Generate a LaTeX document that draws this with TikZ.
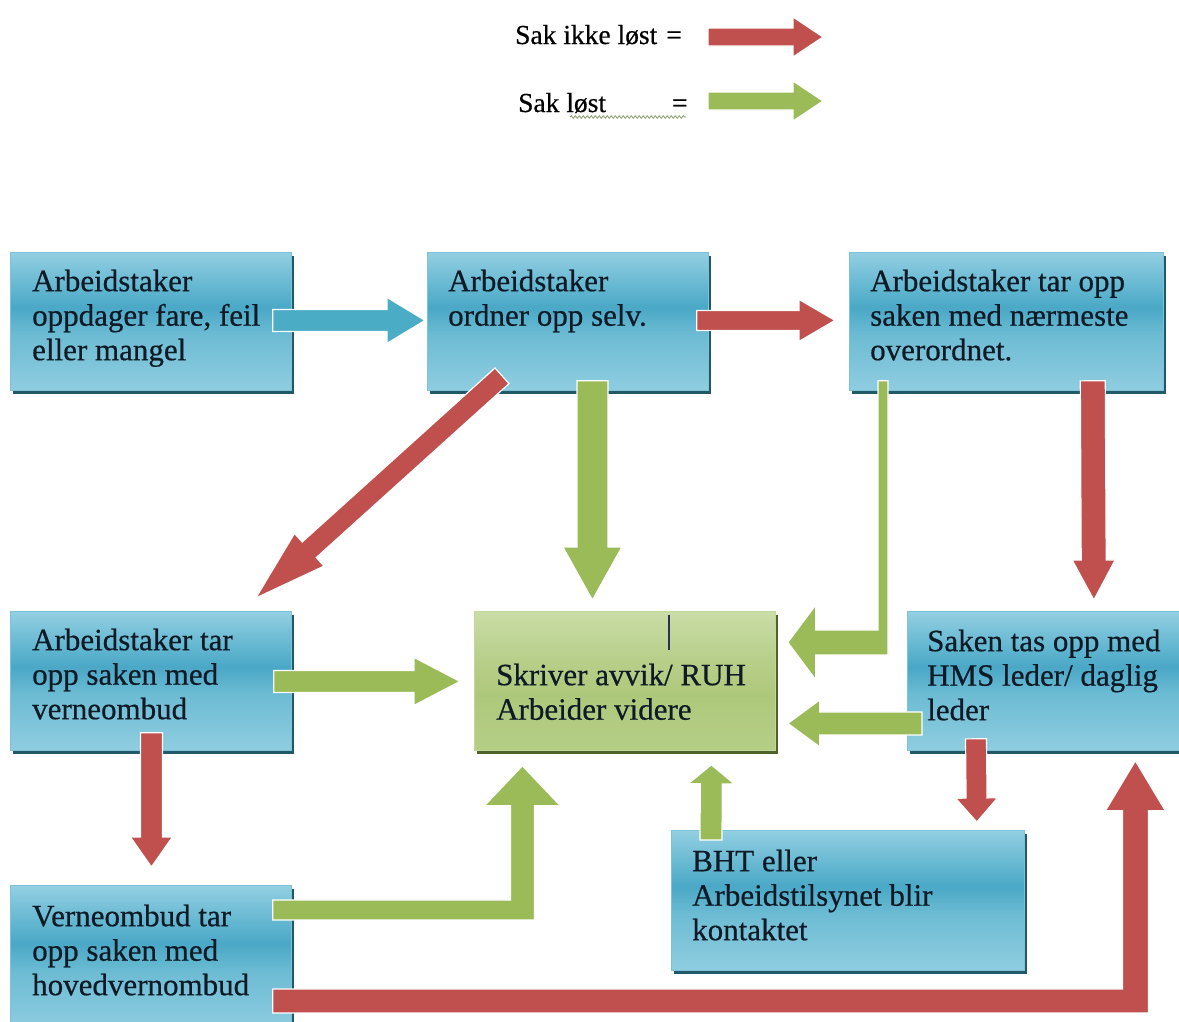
\documentclass[tikz,border=0pt]{standalone}
\usepackage{fontspec}
\setmainfont{Liberation Serif}
\newfontfamily\boxfont{Liberation Serif}[FakeBold=0.5]
\usetikzlibrary{calc,shadows,decorations.pathmorphing}
\definecolor{bbot}{HTML}{8FCDE0}
\definecolor{bmid}{HTML}{6DBCD4}
\definecolor{bdark}{HTML}{4AA8C6}
\definecolor{bmidb}{HTML}{62B6D0}
\definecolor{btop}{HTML}{93CFE2}
\definecolor{bline}{HTML}{7CC2D8}
\definecolor{bshadow}{HTML}{215968}
\definecolor{gbot}{HTML}{B5CE86}
\definecolor{gmid}{HTML}{AEC87B}
\definecolor{gmidb}{HTML}{B8CF8A}
\definecolor{gtop}{HTML}{CADDA7}
\definecolor{gline}{HTML}{C2D79C}
\definecolor{gshadow}{HTML}{4F6228}
\definecolor{ared}{HTML}{C0504D}
\definecolor{agreen}{HTML}{9BBB59}
\definecolor{ablue}{HTML}{4BACC6}
\definecolor{txtc}{HTML}{0E1A26}
\definecolor{squigc}{HTML}{8A9A6B}
\definecolor{cursc}{HTML}{2B2F5A}
\pgfdeclareverticalshading{bluegrad}{100bp}{color(0bp)=(bbot); color(25bp)=(bbot); color(45bp)=(bmid); color(55bp)=(bdark); color(62bp)=(bmidb); color(75bp)=(btop); color(100bp)=(btop)}
\pgfdeclareverticalshading{greengrad}{100bp}{color(0bp)=(gbot); color(25bp)=(gbot); color(45bp)=(gmid); color(58bp)=(gmidb); color(75bp)=(gtop); color(100bp)=(gtop)}
% block arrow: #1 tail, #2 tip, #3 shaft half width, #4 head half width, #5 head length, #6 style
\newcommand\blockarr[6]{%
  \coordinate (bh) at ($(#2)!#5!(#1)$);
  \path[#6] ($(#1)!#3!90:(#2)$) -- ($(bh)!#3!90:(#2)$) -- ($(bh)!#4!90:(#2)$) -- (#2)
    -- ($(bh)!#4!-90:(#2)$) -- ($(bh)!#3!-90:(#2)$) -- ($(#1)!#3!-90:(#2)$) -- cycle;}
\begin{document}
\begin{tikzpicture}[x=1pt,y=-1pt,
  bluebox/.style={anchor=north west, inner sep=0pt, shading=bluegrad, draw=bline, line width=0.8pt,
    general shadow={fill=bshadow, shadow xshift=3pt, shadow yshift=-4pt}},
  greenbox/.style={anchor=north west, inner sep=0pt, shading=greengrad, draw=gline, line width=0.8pt,
    general shadow={fill=gshadow, shadow xshift=3pt, shadow yshift=-4pt}},
  boxtext/.style={anchor=north west, inner sep=0pt, align=left, text=txtc, font=\boxfont\fontsize{31pt}{34.5pt}\selectfont},
  legtext/.style={anchor=base west, inner sep=0pt, text=black, font=\boxfont\fontsize{27.5pt}{33pt}\selectfont},
  redarr/.style={fill=ared, draw=white, line width=1.2pt, line join=miter},
  greenarr/.style={fill=agreen, draw=white, line width=1.2pt, line join=miter},
  bluearr/.style={fill=ablue, draw=white, line width=1.2pt, line join=miter},
  squig/.style={draw=squigc, line width=0.8pt, decorate, decoration={snake, amplitude=1.3pt, segment length=4pt}},
  curs/.style={draw=cursc, line width=2pt}]
\useasboundingbox (0,0) rectangle (1179,1021);
\fill[white] (0,0) rectangle (1179,1021);

% legend
\node[legtext] (lg1) at (515,44) {Sak ikke løst\hspace{9pt}=};
\node[legtext] (lg2) at (518,112) {Sak løst\hspace{66pt}=};
\draw[squig] ($(lg2.base west)+(52,5)$) coordinate (sq1) -- ($(lg2.base west)+(168,5)$) coordinate (sq2);
\coordinate (l1s) at ($(lg1.base west)+(193,-7)$);
\coordinate (l1t) at ($(lg1.base west)+(308,-7)$);
\coordinate (l2s) at ($(lg2.base west)+(190,-11)$);
\coordinate (l2t) at ($(lg2.base west)+(305,-11)$);
\blockarr{l1s}{l1t}{9pt}{20pt}{30pt}{redarr}
\blockarr{l2s}{l2t}{9pt}{20pt}{30pt}{greenarr}

% boxes
\node[bluebox, minimum width=281pt, minimum height=138pt] (A1) at (10,252) {};
\node[bluebox, minimum width=281pt, minimum height=138pt] (A2) at (427,252) {};
\node[bluebox, minimum width=314pt, minimum height=138pt] (A3) at (849,252) {};
\node[bluebox, minimum width=281pt, minimum height=139pt] (B1) at (10,611) {};
\node[greenbox, minimum width=301pt, minimum height=139pt] (C) at (474,611) {};
\node[bluebox, minimum width=275pt, minimum height=139pt] (B3) at (907,611) {};
\node[bluebox, minimum width=353pt, minimum height=140pt] (D) at (671,830) {};
\node[bluebox, minimum width=281pt, minimum height=145pt] (E) at (10,885) {};

% straight arrows
\coordinate (a1s) at ($(A1.east)+(-19,-1)$);
\coordinate (a1t) at ($(A2.west)+(-2,-1)$);
\blockarr{a1s}{a1t}{11pt}{23pt}{38pt}{bluearr}
\coordinate (a2s) at ($(A2.east)+(-12,-1)$);
\coordinate (a2t) at ($(A3.west)+(-14,-1)$);
\blockarr{a2s}{a2t}{10pt}{21pt}{36pt}{redarr}
\coordinate (a3s) at ($(A2.south west)+(75,-15)$);
\coordinate (a3t) at ($(B1.north east)+(-36,-13)$);
\blockarr{a3s}{a3t}{10.5pt}{22pt}{72pt}{redarr}
\coordinate (a4s) at ($(A2.south)+(24.5,-10)$);
\coordinate (a4t) at ($(C.north)+(-32.5,-11)$);
\blockarr{a4s}{a4t}{15.5pt}{29.5pt}{53pt}{greenarr}
\coordinate (a6s) at ($(B3.west)+(15,42.5)$);
\coordinate (a6t) at ($(C.east)+(12,42.5)$);
\blockarr{a6s}{a6t}{11.5pt}{23.5pt}{32pt}{greenarr}
\coordinate (a7s) at ($(A3.south east)+(-71,-10)$);
\coordinate (a7t) at ($(B3.north)+(49,-11)$);
\blockarr{a7s}{a7t}{12.5pt}{21.5pt}{40pt}{redarr}
\coordinate (a8s) at ($(B1.east)+(-18,0.5)$);
\coordinate (a8t) at ($(C.west)+(-14,0.5)$);
\blockarr{a8s}{a8t}{11pt}{24pt}{46pt}{greenarr}
\coordinate (a9s) at ($(B1.south)+(0.5,-18)$);
\coordinate (a9t) at ($(E.north)+(0.5,-18)$);
\blockarr{a9s}{a9t}{11pt}{21pt}{30pt}{redarr}
\coordinate (a11s) at ($(D.north west)+(40,10)$);
\coordinate (a11t) at ($(C.south)+(86.5,14)$);
\blockarr{a11s}{a11t}{11pt}{23pt}{19pt}{greenarr}
\coordinate (a12s) at ($(B3.south west)+(69,-12)$);
\coordinate (a12t) at ($(D.north east)+(-48,-8)$);
\blockarr{a12s}{a12t}{10.5pt}{21pt}{24pt}{redarr}

% bent arrows
\coordinate (e5s) at ($(A3.south west)+(34,-10)$);
\coordinate (e5t) at ($(C.east)+(12,-38.5)$);
\path[greenarr] ($(e5s)+(-5,0)$) -- ($(e5s)+(5,0)$) -- ($(e5s |- e5t)+(5,12.5)$) -- ($(e5t)+(28,12.5)$)
  -- ($(e5t)+(28,37.5)$) -- (e5t) -- ($(e5t)+(28,-37.5)$) -- ($(e5t)+(28,-12.5)$)
  -- ($(e5s |- e5t)+(-5,-12.5)$) -- cycle;
\coordinate (e10s) at ($(E.east)+(-19,-48)$);
\coordinate (e10t) at ($(C.south)+(-102.5,15)$);
\path[greenarr] ($(e10s)+(0,-10)$) -- ($(e10t |- e10s)+(-12,-10)$) -- ($(e10t)+(-12,40)$)
  -- ($(e10t)+(-38,40)$) -- (e10t) -- ($(e10t)+(38,40)$) -- ($(e10t)+(12,40)$)
  -- ($(e10t |- e10s)+(12,10)$) -- ($(e10s)+(0,10)$) -- cycle;
\coordinate (e13s) at ($(E.east)+(-19,43)$);
\coordinate (e13t) at ($(B3.south)+(90.5,10)$);
\path[redarr] ($(e13s)+(0,-12)$) -- ($(e13t |- e13s)+(-13,-12)$) -- ($(e13t)+(-13,50)$)
  -- ($(e13t)+(-30,50)$) -- (e13t) -- ($(e13t)+(30,50)$) -- ($(e13t)+(13,50)$)
  -- ($(e13t |- e13s)+(13,12)$) -- ($(e13s)+(0,12)$) -- cycle;

% texts
\node[boxtext] (A1t) at ($(A1.north west)+(22,14.85)$) {\strut Arbeidstaker\\oppdager fare, feil\\eller mangel};
\node[boxtext] (A2t) at ($(A2.north west)+(21,14.85)$) {\strut Arbeidstaker\\ordner opp selv.};
\node[boxtext] (A3t) at ($(A3.north west)+(21,14.85)$) {\strut Arbeidstaker tar opp\\saken med nærmeste\\overordnet.};
\node[boxtext] (B1t) at ($(B1.north west)+(22,14.85)$) {\strut Arbeidstaker tar\\opp saken med\\verneombud};
\node[boxtext] (Ct) at ($(C.north west)+(22,49.85)$) {\strut Skriver avvik/ RUH\\Arbeider videre};
\node[boxtext] (B3t) at ($(B3.north west)+(20,15.85)$) {\strut Saken tas opp med\\HMS leder/ daglig\\leder};
\node[boxtext] (Dt) at ($(D.north west)+(21,16.85)$) {\strut BHT eller\\Arbeidstilsynet blir\\kontaktet};
\node[boxtext] (Et) at ($(E.north west)+(22,16.85)$) {\strut Verneombud tar\\opp saken med\\hovedvernombud};

% text cursor
\coordinate (cu1) at ($(C.north)+(44,4)$);
\coordinate (cu2) at ($(C.north)+(44,39)$);
\draw[curs] (cu1) -- (cu2);
\end{tikzpicture}
\end{document}
